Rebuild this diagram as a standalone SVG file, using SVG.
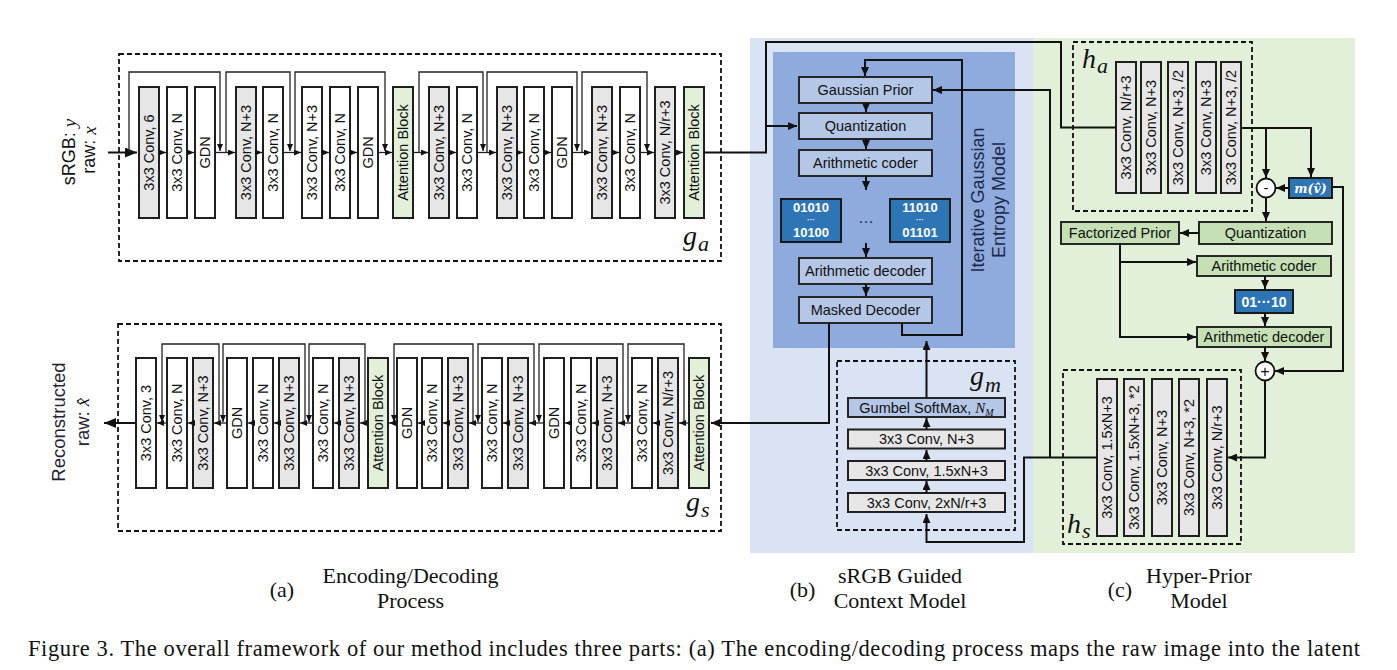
<svg xmlns="http://www.w3.org/2000/svg" width="1397" height="670" viewBox="0 0 1397 670">
<style>
.bk{stroke:#1f1f1f;stroke-width:2}
.w{fill:#ffffff}.g{fill:#e7e6e6}.gn{fill:#e2f0d9}
.bb{fill:#b4c7e7;stroke:#262626;stroke-width:2}
.cb{fill:#c5e0b4;stroke:#262626;stroke-width:2}
.bits{fill:#2e75b6;stroke:#1a1a1a;stroke-width:2}
.t{font-family:"Liberation Sans",Arial,sans-serif;font-size:14.5px;fill:#111;text-anchor:middle;dominant-baseline:central}
.wt{font-family:"Liberation Sans",Arial,sans-serif;font-size:13px;font-weight:bold;fill:#fff;text-anchor:middle;dominant-baseline:central}
.ln{fill:none;stroke:#111;stroke-width:2}
.sk{fill:none;stroke:#222;stroke-width:1.3}
.dash{fill:none;stroke:#111;stroke-width:1.8;stroke-dasharray:5 3}
.math{font-family:"Liberation Serif","Times New Roman",serif;font-style:italic;fill:#111}
.cap{font-family:"Liberation Serif","Times New Roman",serif;font-size:22px;fill:#111}
</style>
<defs>
<marker id="as" viewBox="0 0 7 6" refX="7" refY="3" markerWidth="7" markerHeight="6" markerUnits="userSpaceOnUse" orient="auto"><path d="M0,0L7,3L0,6z" fill="#111"/></marker>
<marker id="am" viewBox="0 0 9 8" refX="9" refY="4" markerWidth="9" markerHeight="8" markerUnits="userSpaceOnUse" orient="auto"><path d="M0,0L9,4L0,8z" fill="#111"/></marker>
<marker id="al" viewBox="0 0 12 10" refX="12" refY="5" markerWidth="12" markerHeight="10" markerUnits="userSpaceOnUse" orient="auto"><path d="M0,0L12,5L0,10z" fill="#111"/></marker>
</defs>

<!-- panel backgrounds -->
<g id="panel-b-bg">
<rect x="750" y="38" width="283" height="515" fill="#dae3f3"/>
<rect x="773" y="52" width="242" height="296" fill="#8faadc"/>
<text class="t" style="font-size:18px;fill:#1c2a4a" transform="translate(978,200) rotate(-90)">Iterative Gaussian</text>
<text class="t" style="font-size:18px;fill:#1c2a4a" transform="translate(999,200) rotate(-90)">Entropy Model</text>
</g>
<g id="panel-c-bg">
<rect x="1033" y="38" width="322" height="515" fill="#e2f0d9"/>
</g>

<!-- left labels -->
<g id="input-label">
<text class="t" style="font-size:18px" transform="translate(69,152) rotate(-90)">sRGB: <tspan class="math" style="font-size:19px">y</tspan></text>
<text class="t" style="font-size:18px" transform="translate(89,150) rotate(-90)">raw: <tspan class="math" style="font-size:19px">x</tspan></text>
</g>
<g id="output-label">
<text class="t" style="font-size:18.5px;fill:#1f2233" transform="translate(58,422) rotate(-90)">Reconstructed</text>
<text class="t" style="font-size:18.5px;fill:#1f2233" transform="translate(82,422) rotate(-90)">raw: <tspan class="math" style="font-size:19px">x̂</tspan></text>
</g>

<!-- encoder g_a -->
<g id="encoder-ga">
<rect class="dash" x="119" y="54" width="602" height="207"/>
<text class="math" x="683" y="244.5" style="font-size:28px">g</text><text class="math" x="698" y="250.5" style="font-size:22px">a</text>
<g id="ga-blocks">
<rect class="bk g" x="139" y="87" width="20" height="131"/><text class="t" transform="translate(149,152.5) rotate(-90)">3x3 Conv, 6</text>
<rect class="bk w" x="167" y="87" width="20" height="131"/><text class="t" transform="translate(177,152.5) rotate(-90)">3x3 Conv, N</text>
<rect class="bk w" x="195" y="87" width="20" height="131"/><text class="t" transform="translate(205,152.5) rotate(-90)">GDN</text>
<rect class="bk g" x="236" y="87" width="20" height="131"/><text class="t" transform="translate(246,152.5) rotate(-90)">3x3 Conv, N+3</text>
<rect class="bk w" x="263" y="87" width="20" height="131"/><text class="t" transform="translate(273,152.5) rotate(-90)">3x3 Conv, N</text>
<rect class="bk w" x="302" y="87" width="20" height="131"/><text class="t" transform="translate(312,152.5) rotate(-90)">3x3 Conv, N+3</text>
<rect class="bk w" x="330" y="87" width="20" height="131"/><text class="t" transform="translate(340,152.5) rotate(-90)">3x3 Conv, N</text>
<rect class="bk w" x="358" y="87" width="20" height="131"/><text class="t" transform="translate(368,152.5) rotate(-90)">GDN</text>
<rect class="bk gn" x="393" y="87" width="20" height="131"/><text class="t" transform="translate(403,152.5) rotate(-90)">Attention Block</text>
<rect class="bk g" x="429" y="87" width="20" height="131"/><text class="t" transform="translate(439,152.5) rotate(-90)">3x3 Conv, N+3</text>
<rect class="bk w" x="457" y="87" width="20" height="131"/><text class="t" transform="translate(467,152.5) rotate(-90)">3x3 Conv, N</text>
<rect class="bk g" x="497" y="87" width="20" height="131"/><text class="t" transform="translate(507,152.5) rotate(-90)">3x3 Conv, N+3</text>
<rect class="bk w" x="524" y="87" width="20" height="131"/><text class="t" transform="translate(534,152.5) rotate(-90)">3x3 Conv, N</text>
<rect class="bk w" x="552" y="87" width="20" height="131"/><text class="t" transform="translate(562,152.5) rotate(-90)">GDN</text>
<rect class="bk g" x="592" y="87" width="20" height="131"/><text class="t" transform="translate(602,152.5) rotate(-90)">3x3 Conv, N+3</text>
<rect class="bk w" x="620" y="87" width="20" height="131"/><text class="t" transform="translate(630,152.5) rotate(-90)">3x3 Conv, N</text>
<rect class="bk g" x="655" y="87" width="20" height="131"/><text class="t" transform="translate(665,152.5) rotate(-90)">3x3 Conv, N/r+3</text>
<rect class="bk gn" x="684" y="87" width="20" height="131"/><text class="t" transform="translate(694,152.5) rotate(-90)">Attention Block</text>
</g>
</g>

<!-- decoder g_s -->
<g id="decoder-gs">
<rect class="dash" x="118" y="324" width="603" height="207"/>
<text class="math" x="686" y="510.5" style="font-size:28px">g</text><text class="math" x="701" y="516.5" style="font-size:22px">s</text>
<g id="gs-blocks">
<rect class="bk w" x="136" y="358" width="20" height="130"/><text class="t" transform="translate(146,423) rotate(-90)">3x3 Conv, 3</text>
<rect class="bk w" x="167" y="358" width="20" height="130"/><text class="t" transform="translate(177,423) rotate(-90)">3x3 Conv, N</text>
<rect class="bk g" x="193" y="358" width="20" height="130"/><text class="t" transform="translate(203,423) rotate(-90)">3x3 Conv, N+3</text>
<rect class="bk w" x="227" y="358" width="20" height="130"/><text class="t" transform="translate(237,423) rotate(-90)">GDN</text>
<rect class="bk w" x="253" y="358" width="20" height="130"/><text class="t" transform="translate(263,423) rotate(-90)">3x3 Conv, N</text>
<rect class="bk g" x="279" y="358" width="20" height="130"/><text class="t" transform="translate(289,423) rotate(-90)">3x3 Conv, N+3</text>
<rect class="bk w" x="313" y="358" width="20" height="130"/><text class="t" transform="translate(323,423) rotate(-90)">3x3 Conv, N</text>
<rect class="bk g" x="339" y="358" width="20" height="130"/><text class="t" transform="translate(349,423) rotate(-90)">3x3 Conv, N+3</text>
<rect class="bk gn" x="368" y="358" width="20" height="130"/><text class="t" transform="translate(378,423) rotate(-90)">Attention Block</text>
<rect class="bk w" x="397" y="358" width="20" height="130"/><text class="t" transform="translate(407,423) rotate(-90)">GDN</text>
<rect class="bk w" x="422" y="358" width="20" height="130"/><text class="t" transform="translate(432,423) rotate(-90)">3x3 Conv, N</text>
<rect class="bk g" x="448" y="358" width="20" height="130"/><text class="t" transform="translate(458,423) rotate(-90)">3x3 Conv, N+3</text>
<rect class="bk w" x="482" y="358" width="20" height="130"/><text class="t" transform="translate(492,423) rotate(-90)">3x3 Conv, N</text>
<rect class="bk g" x="508" y="358" width="20" height="130"/><text class="t" transform="translate(518,423) rotate(-90)">3x3 Conv, N+3</text>
<rect class="bk w" x="544" y="358" width="20" height="130"/><text class="t" transform="translate(554,423) rotate(-90)">GDN</text>
<rect class="bk w" x="571" y="358" width="20" height="130"/><text class="t" transform="translate(581,423) rotate(-90)">3x3 Conv, N</text>
<rect class="bk g" x="597" y="358" width="20" height="130"/><text class="t" transform="translate(607,423) rotate(-90)">3x3 Conv, N+3</text>
<rect class="bk w" x="632" y="358" width="20" height="130"/><text class="t" transform="translate(642,423) rotate(-90)">3x3 Conv, N</text>
<rect class="bk g" x="658" y="358" width="20" height="130"/><text class="t" transform="translate(668,423) rotate(-90)">3x3 Conv, N/r+3</text>
<rect class="bk gn" x="689" y="358" width="20" height="130"/><text class="t" transform="translate(699,423) rotate(-90)">Attention Block</text>
</g>
</g>

<!-- panel b nodes -->
<g id="gaussian-prior"><rect class="bb" x="799" y="77" width="133" height="26"/><text class="t" x="865.5" y="90">Gaussian Prior</text></g>
<g id="quantization-b"><rect class="bb" x="799" y="113" width="133" height="26"/><text class="t" x="865.5" y="126">Quantization</text></g>
<g id="arith-coder-b"><rect class="bb" x="799" y="150" width="133" height="26"/><text class="t" x="865.5" y="163">Arithmetic coder</text></g>
<g id="bits-1"><rect class="bits" x="781" y="199" width="60" height="43"/><text class="wt" x="811" y="207">01010</text><text class="wt" x="811" y="219.5" style="font-size:8px">···</text><text class="wt" x="811" y="232">10100</text></g>
<g id="bits-ellipsis"><text class="t" x="866" y="217" style="font-size:16px;fill:#1c2a4a">…</text></g>
<g id="bits-2"><rect class="bits" x="890" y="199" width="60" height="43"/><text class="wt" x="920" y="207">11010</text><text class="wt" x="920" y="219.5" style="font-size:8px">···</text><text class="wt" x="920" y="232">01101</text></g>
<g id="arith-decoder-b"><rect class="bb" x="799" y="258" width="133" height="26"/><text class="t" x="865.5" y="271">Arithmetic decoder</text></g>
<g id="masked-decoder"><rect class="bb" x="799" y="297" width="133" height="26"/><text class="t" x="865.5" y="310">Masked Decoder</text></g>

<g id="gm">
<rect class="dash" x="837" y="361" width="178" height="169"/>
<text class="math" x="970" y="384.5" style="font-size:28px">g</text><text class="math" x="985" y="391.5" style="font-size:22px">m</text>
<rect class="bb" x="848" y="398" width="157" height="19"/>
<text x="926.5" y="412.5" style="font-family:'Liberation Sans',Arial,sans-serif;font-size:14.5px;fill:#111;text-anchor:middle">Gumbel SoftMax, <tspan class="math" style="font-size:15px">N</tspan><tspan class="math" dy="3" style="font-size:10px">M</tspan></text>
<rect class="bk g" x="848" y="429.5" width="157" height="19"/><text class="t" x="926.5" y="439">3x3 Conv, N+3</text>
<rect class="bk g" x="848" y="461" width="157" height="19"/><text class="t" x="926.5" y="470.5">3x3 Conv, 1.5xN+3</text>
<rect class="bk g" x="848" y="493" width="157" height="19"/><text class="t" x="926.5" y="502.5">3x3 Conv, 2xN/r+3</text>
</g>

<!-- panel c nodes -->
<g id="ha">
<rect class="dash" x="1073" y="42" width="179" height="169"/>
<text class="math" x="1082" y="67.5" style="font-size:28px">h</text><text class="math" x="1097" y="72.5" style="font-size:22px">a</text>
<rect class="bk g" x="1116" y="62" width="20" height="131"/><text class="t" transform="translate(1126,127.5) rotate(-90)">3x3 Conv, N/r+3</text>
<rect class="bk g" x="1141" y="62" width="20" height="131"/><text class="t" transform="translate(1151,127.5) rotate(-90)">3x3 Conv, N+3</text>
<rect class="bk g" x="1168" y="62" width="20" height="131"/><text class="t" transform="translate(1178,127.5) rotate(-90)">3x3 Conv, N+3, /2</text>
<rect class="bk g" x="1196" y="62" width="20" height="131"/><text class="t" transform="translate(1206,127.5) rotate(-90)">3x3 Conv, N+3</text>
<rect class="bk g" x="1221" y="62" width="20" height="131"/><text class="t" transform="translate(1231,127.5) rotate(-90)">3x3 Conv, N+3, /2</text>
</g>
<g id="minus"><circle cx="1266" cy="188" r="9.5" fill="#fff" stroke="#111" stroke-width="1.8"/><text class="t" x="1266" y="187" style="font-size:15px">-</text></g>
<g id="mean"><rect class="bits" x="1289" y="178" width="43" height="20"/><text x="1310.5" y="193" style="font-family:'DejaVu Serif','Liberation Serif',serif;font-style:italic;font-weight:bold;font-size:12.5px;fill:#fff;text-anchor:middle">m(v̂)</text></g>
<g id="quantization-c"><rect class="cb" x="1199" y="222" width="133" height="22"/><text class="t" x="1265.5" y="233">Quantization</text></g>
<g id="factorized-prior"><rect class="cb" x="1061" y="222" width="118" height="22"/><text class="t" x="1120" y="233">Factorized Prior</text></g>
<g id="arith-coder-c"><rect class="cb" x="1197" y="256" width="134" height="20"/><text class="t" x="1264" y="266">Arithmetic coder</text></g>
<g id="bits-c"><rect class="bits" x="1235" y="290" width="58" height="23"/><text class="wt" x="1264" y="301.5" style="font-size:14px">01···10</text></g>
<g id="arith-decoder-c"><rect class="cb" x="1197" y="327" width="134" height="20"/><text class="t" x="1264" y="337">Arithmetic decoder</text></g>
<g id="plus"><circle cx="1265" cy="371" r="9.5" fill="#fff" stroke="#111" stroke-width="1.8"/><text class="t" x="1265" y="371" style="font-size:16px">+</text></g>
<g id="hs">
<rect class="dash" x="1063" y="370" width="178" height="174"/>
<text class="math" x="1067" y="533" style="font-size:28px">h</text><text class="math" x="1082" y="538" style="font-size:22px">s</text>
<rect class="bk g" x="1097" y="379" width="20" height="157"/><text class="t" transform="translate(1107,457.5) rotate(-90)">3x3 Conv, 1.5xN+3</text>
<rect class="bk g" x="1124" y="379" width="20" height="157"/><text class="t" transform="translate(1134,457.5) rotate(-90)">3x3 Conv, 1.5xN+3, *2</text>
<rect class="bk g" x="1152" y="379" width="20" height="157"/><text class="t" transform="translate(1162,457.5) rotate(-90)">3x3 Conv, N+3</text>
<rect class="bk g" x="1179" y="379" width="20" height="157"/><text class="t" transform="translate(1189,457.5) rotate(-90)">3x3 Conv, N+3, *2</text>
<rect class="bk g" x="1207" y="379" width="20" height="157"/><text class="t" transform="translate(1217,457.5) rotate(-90)">3x3 Conv, N/r+3</text>
</g>

<!-- connectors -->
<g id="connectors">
<path class="ln" d="M108,152.5H137" marker-end="url(#al)"/>
<g class="sk" marker-end="url(#as)">
<path d="M159,152.5H166"/><path d="M187,152.5H194"/><path d="M215,152.5H235"/><path d="M256,152.5H262"/><path d="M283,152.5H301"/><path d="M322,152.5H329"/><path d="M350,152.5H357"/><path d="M378,152.5H392"/><path d="M413,152.5H428"/><path d="M449,152.5H456"/><path d="M477,152.5H496"/><path d="M517,152.5H523"/><path d="M544,152.5H551"/><path d="M572,152.5H591"/><path d="M612,152.5H619"/><path d="M640,152.5H654"/><path d="M675,152.5H683"/>
<path d="M129,152.5V72H220V151"/><path d="M226,152.5V72H290V151"/><path d="M295,152.5V72H385V151"/><path d="M419,152.5V72H483V151"/><path d="M487,152.5V72H577V151"/><path d="M582,152.5V72H647V151"/>
</g>
<path class="ln" d="M136,423H104" marker-end="url(#al)"/>
<g class="sk" marker-end="url(#as)">
<path d="M689,423H679"/><path d="M658,423H653"/><path d="M632,423H618"/><path d="M597,423H592"/><path d="M571,423H565"/><path d="M544,423H529"/><path d="M508,423H503"/><path d="M482,423H469"/><path d="M448,423H443"/><path d="M422,423H418"/><path d="M397,423H389"/><path d="M368,423H360"/><path d="M339,423H334"/><path d="M313,423H300"/><path d="M279,423H274"/><path d="M253,423H248"/><path d="M227,423H214"/><path d="M193,423H188"/><path d="M167,423H157"/>
<path d="M684,423V344H628V422"/><path d="M623,423V344H539V422"/><path d="M534,423V344H478V422"/><path d="M473,423V344H394V422"/><path d="M365,423V344H309V422"/><path d="M305,423V344H223V422"/><path d="M219,423V344H162V422"/>
</g>
<path class="ln" d="M704,152.5H766V42H1061V127.5H1116"/>
<path class="ln" d="M766,126H797" marker-end="url(#am)"/>
<g class="ln" marker-end="url(#am)">
<path d="M866,103V112"/><path d="M866,139V149"/><path d="M866,176V190"/><path d="M866,243V257"/><path d="M866,284V296"/>
<path d="M902,323V335H962V60H865V76"/>
<path d="M829,323V423H711"/>
<path d="M926.5,398V341"/>
<path d="M926.5,493V481"/><path d="M926.5,461V450"/><path d="M926.5,429.5V418"/>
<path d="M1097,457.5H1024V542H926.5V514"/>
<path d="M1050,457.5V90H933"/>
</g>
<g class="ln" marker-end="url(#am)">
<path d="M1241,128H1311V177"/>
<path d="M1266,128V178"/>
<path d="M1289,188H1276"/>
<path d="M1332,187H1343V371H1275"/>
<path d="M1266,197.5V221"/>
<path d="M1199,233H1180"/>
<path d="M1120,244V337H1196"/>
<path d="M1120,262H1196"/>
<path d="M1265,276V289"/><path d="M1265,313V326"/><path d="M1265,347V361"/>
<path d="M1265,380.5V457.5H1228"/>
</g>
</g>

<!-- captions -->
<g id="captions">
<text class="cap" x="282" y="597" text-anchor="middle">(a)</text>
<text class="cap" x="410.5" y="583" text-anchor="middle">Encoding/Decoding</text>
<text class="cap" x="410.5" y="608" text-anchor="middle">Process</text>
<text class="cap" x="802.5" y="597" text-anchor="middle">(b)</text>
<text class="cap" x="900" y="583" text-anchor="middle">sRGB Guided</text>
<text class="cap" x="900" y="608" text-anchor="middle">Context Model</text>
<text class="cap" x="1120" y="597" text-anchor="middle">(c)</text>
<text class="cap" x="1199" y="583" text-anchor="middle">Hyper-Prior</text>
<text class="cap" x="1199" y="608" text-anchor="middle">Model</text>
<text class="cap" x="28" y="656" style="font-size:22.5px" textLength="1332" lengthAdjust="spacing">Figure 3. The overall framework of our method includes three parts: (a) The encoding/decoding process maps the raw image into the latent</text>
</g>
</svg>
